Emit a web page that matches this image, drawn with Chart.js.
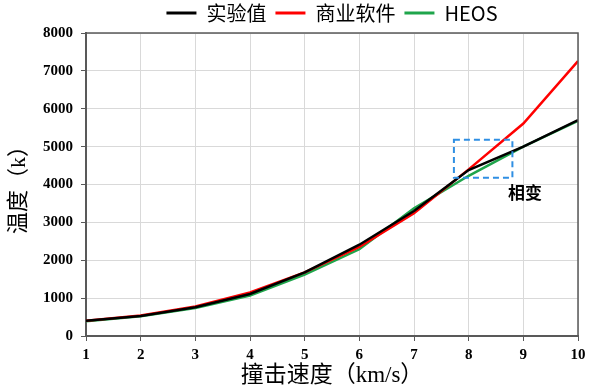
<!DOCTYPE html>
<html><head><meta charset="utf-8">
<script src="https://cdn.jsdelivr.net/npm/chart.js@4"></script>
<style>html,body{margin:0;padding:0;background:#fff;}</style>
</head><body>
<canvas id="c" width="591" height="390" style="width:591px;height:390px;display:block"></canvas>
<script>
// ---- data ----
const speeds = [1, 2, 3, 4, 5, 6, 7, 8, 9, 10];
const expValues = [400, 530, 760, 1110, 1680, 2410, 3300, 4380, 5000, 5700];
const softValues = [400, 540, 780, 1150, 1680, 2350, 3240, 4400, 5610, 7260];
const heosValues = [390, 520, 740, 1070, 1620, 2290, 3370, 4230, 5000, 5680];
const seriesNames = ['实验值', '商业软件', 'HEOS'];
const seriesColors = ['#000000', '#FF0000', '#1FA54B'];
const xTickRange = [1, 10, 1];
const yTickRange = [0, 8000, 1000];
const xTitle = '撞击速度（km/s）';
const yTitle = '温度（k）';
const boxX = [7.73, 8.80];
const boxY = [4175, 5180];
const noteText = '相变';
const notePos = [9.03, 3790];

const seriesValues = [expValues, softValues, heosValues];

const framePlugin = {
  id: 'frame',
  afterDatasetsDraw(chart) {
    const {ctx, chartArea: a, scales: {x, y}} = chart;
    ctx.save();
    ctx.strokeStyle = '#595959';
    ctx.lineWidth = 1.5;
    ctx.beginPath();
    ctx.moveTo(a.left, a.top);
    ctx.lineTo(a.right, a.top);
    ctx.lineTo(a.right, a.bottom);
    ctx.stroke();
    const x0 = x.getPixelForValue(boxX[0]), x1 = x.getPixelForValue(boxX[1]);
    const y0 = y.getPixelForValue(boxY[1]), y1 = y.getPixelForValue(boxY[0]);
    ctx.strokeStyle = '#2F8FE3';
    ctx.lineWidth = 2;
    ctx.setLineDash([6, 4]);
    ctx.strokeRect(x0, y0, x1 - x0, y1 - y0);
    ctx.setLineDash([]);
    ctx.fillStyle = '#000';
    ctx.font = 'bold 17px "Noto Sans CJK SC"';
    ctx.textAlign = 'center';
    ctx.textBaseline = 'middle';
    ctx.fillText(noteText, x.getPixelForValue(notePos[0]), y.getPixelForValue(notePos[1]));
    ctx.restore();
  }
};

const tickFont = {family: '"Liberation Serif", "Times New Roman", serif', size: 15, weight: 'bold'};
const titleFontFamily = '"Liberation Serif", "Noto Sans CJK SC", serif';

new Chart(document.getElementById('c'), {
  type: 'line',
  data: {
    datasets: seriesNames.map((name, i) => ({
      label: name,
      data: speeds.map((s, j) => ({x: s, y: seriesValues[i][j]})),
      borderColor: seriesColors[i],
      backgroundColor: seriesColors[i],
      borderWidth: 2.5,
      pointRadius: 0,
      tension: 0,
      fill: false
    }))
  },
  options: {
    responsive: false,
    animation: false,
    devicePixelRatio: 1,
    layout: {padding: {left: 0, right: 13, top: -6, bottom: 0}},
    plugins: {
      tooltip: {enabled: false},
      legend: {
        position: 'top',
        fullSize: false,
        labels: {
          boxWidth: 30,
          boxHeight: 3,
          padding: 9,
          color: '#000',
          font: {family: '"Noto Sans CJK SC"', size: 20},
          generateLabels(chart) {
            return Chart.defaults.plugins.legend.labels.generateLabels(chart).map(l => Object.assign(l, {lineWidth: 0}));
          }
        }
      }
    },
    scales: {
      x: {
        type: 'linear',
        min: xTickRange[0], max: xTickRange[1],
        ticks: {stepSize: xTickRange[2], font: tickFont, color: '#000', padding: 5, callback: v => String(v)},
        grid: {color: '#D9D9D9', lineWidth: 1, tickLength: 5, tickColor: '#595959'},
        border: {color: '#595959', width: 2},
        title: {display: true, text: xTitle, color: '#000', font: {family: titleFontFamily, size: 23}, padding: {top: 3, bottom: 0}},
        afterFit(s) { s.height = 54; }
      },
      y: {
        min: yTickRange[0], max: yTickRange[1],
        ticks: {stepSize: yTickRange[2], font: tickFont, color: '#000', padding: 8, callback: v => String(v)},
        grid: {color: '#D9D9D9', lineWidth: 1, tickLength: 5, tickColor: '#595959'},
        border: {color: '#595959', width: 2},
        title: {display: true, text: yTitle, color: '#000', font: {family: titleFontFamily, size: 22}, padding: {top: 6, bottom: 4}},
        afterFit(s) { s.width = 86; }
      }
    }
  },
  plugins: [framePlugin]
});
</script>
</body></html>
